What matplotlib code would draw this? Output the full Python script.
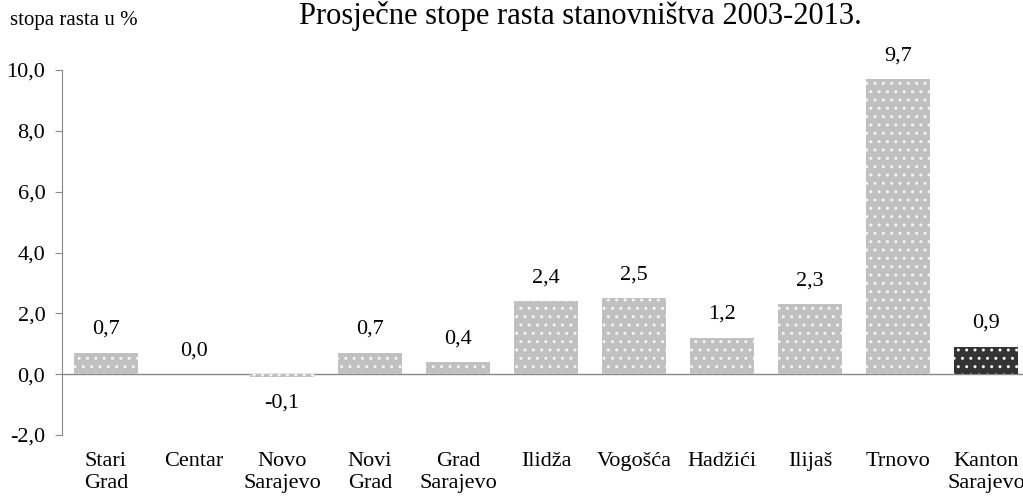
import matplotlib
matplotlib.use("Agg")
import matplotlib.pyplot as plt

# data
categories = ["Stari\nGrad", "Centar", "Novo\nSarajevo", "Novi\nGrad", "Grad\nSarajevo",
              "Ilidža", "Vogošća", "Hadžići", "Ilijaš", "Trnovo", "Kanton\nSarajevo"]
rates = [0.7, 0.0, -0.1, 0.7, 0.4, 2.4, 2.5, 1.2, 2.3, 9.7, 0.9]
yticks = [-2, 0, 2, 4, 6, 8, 10]

plt.rcParams['font.family'] = ['Liberation Serif', 'DejaVu Serif']
plt.rcParams['hatch.linewidth'] = 1.0

fig = plt.figure(figsize=(10.23, 4.96), dpi=100)
ax = fig.add_axes([62 / 1023, 61 / 496, 968 / 1023, 365 / 496])

colors = ['#c0c0c0'] * (len(rates) - 1) + ['#333333']
x = range(len(categories))
ax.bar(x, rates, width=0.73, color=colors, edgecolor='#f4f4f4', linewidth=0,
       hatch='..', zorder=2)

for xi, v in zip(x, rates):
    label = f"{v:.1f}".replace('.', ',')
    if v < 0:
        ax.annotate(label, (xi, v), xytext=(0, -12), textcoords='offset points',
                    ha='center', va='top', fontsize=16)
    else:
        ax.annotate(label, (xi, v), xytext=(0, 10), textcoords='offset points',
                    ha='center', va='bottom', fontsize=16)

ax.axhline(0, color='#888888', linewidth=1, zorder=1)
ax.set_xlim(-0.5, 10.5)
ax.set_ylim(-2, 10)
ax.set_yticks(yticks)
ax.set_yticklabels([f"{t:.1f}".replace('.', ',') for t in yticks], fontsize=16)
ax.set_xticks(list(x))
ax.set_xticklabels(categories, fontsize=16, va='top', linespacing=1.25)
ax.tick_params(axis='x', length=0, pad=12)
ax.tick_params(axis='y', length=5, color='#888888', pad=7)
for s in ['top', 'right', 'bottom']:
    ax.spines[s].set_visible(False)
ax.spines['left'].set_color('#888888')

fig.text(10 / 1023, 1 - 21 / 496, "stopa rasta u %", fontsize=15, va='center', ha='left')
fig.text(580 / 1023, 1 - 1 / 496, "Prosječne stope rasta stanovništva 2003-2013.",
         fontsize=22, ha='center', va='top')

fig.savefig("out.png", dpi=100)
